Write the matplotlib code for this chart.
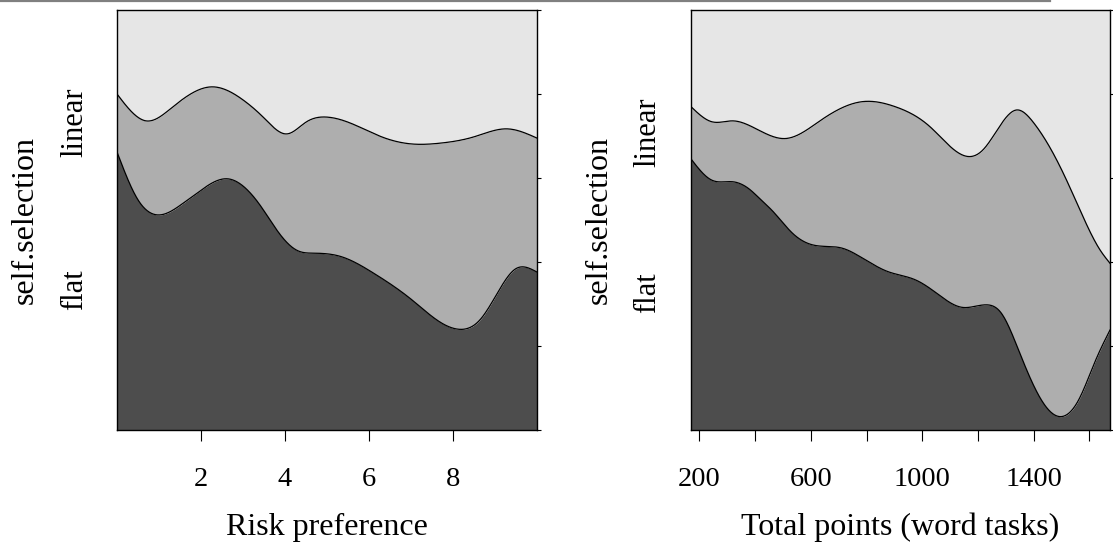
import numpy as np
import matplotlib
matplotlib.use("Agg")
import matplotlib.pyplot as plt
from matplotlib.lines import Line2D

# ---------------- data (cumulative conditional proportions) ----------------
# Left panel: Risk preference
risk_x_low = [0.0, 0.5, 0.98, 1.52, 2.0, 2.64, 3.11, 3.43, 3.75, 4.06, 4.30, 4.69,
              5.33, 6.1, 7.02, 7.69, 8.12, 8.64, 9.14, 9.48, 10.0]
risk_flat = [0.662, 0.548, 0.512, 0.536, 0.571, 0.598, 0.571, 0.532, 0.484, 0.445,
             0.427, 0.421, 0.413, 0.374, 0.310, 0.257, 0.240, 0.262, 0.340, 0.383,
             0.376]
risk_x_up = [0.0, 0.69, 1.3, 2.26, 3.0, 3.5, 4.05, 4.5, 5.0, 5.6, 6.3, 7.02,
             7.7, 8.5, 9.28, 10.0]
risk_flat_self = [0.800, 0.736, 0.767, 0.817, 0.786, 0.743, 0.705, 0.733, 0.745,
                  0.729, 0.698, 0.681, 0.683, 0.698, 0.717, 0.695]

# Right panel: Total points (word tasks)
pts_x_low = [168, 244, 320, 384, 421, 459, 535, 611, 712, 776, 877, 977, 1053,
             1143, 1232, 1283, 1346, 1421, 1485, 1561, 1623, 1674]
pts_flat = [0.647, 0.595, 0.591, 0.571, 0.548, 0.524, 0.468, 0.440, 0.433, 0.413,
            0.377, 0.357, 0.325, 0.292, 0.298, 0.279, 0.190, 0.079, 0.033, 0.071,
            0.167, 0.238]
pts_x_up = [168, 244, 320, 389, 510, 637, 788, 902, 1028, 1168, 1218, 1339, 1397,
            1469, 1518, 1577, 1638, 1674]
pts_flat_self = [0.771, 0.734, 0.736, 0.722, 0.694, 0.738, 0.782, 0.770, 0.722,
                 0.651, 0.667, 0.762, 0.734, 0.660, 0.595, 0.508, 0.429, 0.397]

levels = ["flat", "self.selection", "linear"]
ylab = "self.selection"
xlabels = ["Risk preference", "Total points (word tasks)"]
risk_ticks = [2, 4, 6, 8]
pts_ticks = [200, 400, 600, 800, 1000, 1200, 1400, 1600]
pts_ticklabels = ["200", "", "600", "", "1000", "", "1400", ""]

COLS = ["#4D4D4D", "#AEAEAE", "#E6E6E6"]
FONT = "Liberation Serif"

W, H = 1113, 546


def spline(x, y, xs):
    x = np.asarray(x, float)
    y = np.asarray(y, float)
    n = len(x)
    h = np.diff(x)
    A = np.zeros((n, n))
    b = np.zeros(n)
    A[0, 0] = 1
    A[-1, -1] = 1
    for i in range(1, n - 1):
        A[i, i - 1] = h[i - 1]
        A[i, i] = 2 * (h[i - 1] + h[i])
        A[i, i + 1] = h[i]
        b[i] = 3 * ((y[i + 1] - y[i]) / h[i] - (y[i] - y[i - 1]) / h[i - 1])
    c = np.linalg.solve(A, b)
    bc = (y[1:] - y[:-1]) / h - h * (2 * c[:-1] + c[1:]) / 3
    d = (c[1:] - c[:-1]) / (3 * h)
    idx = np.clip(np.searchsorted(x, xs) - 1, 0, n - 2)
    dx = xs - x[idx]
    return y[idx] + bc[idx] * dx + c[idx] * dx ** 2 + d[idx] * dx ** 3


fig = plt.figure(figsize=(W / 100, H / 100), dpi=100)


def px_ax(l, t, r, b):
    return fig.add_axes([l / W, 1 - b / H, (r - l) / W, (b - t) / H])


def panel(ax, xlo, ylo, xup, yup, xlim, ticks, ticklabels, xlabel, label_y, off):
    xs = np.linspace(xlim[0], xlim[1], 800)
    lo = np.clip(spline(xlo, ylo, xs), 0, 1)
    up = np.clip(spline(xup, yup, xs), 0, 1)
    ax.fill_between(xs, 0, lo, color=COLS[0], lw=0)
    ax.fill_between(xs, lo, up, color=COLS[1], lw=0)
    ax.fill_between(xs, up, 1, color=COLS[2], lw=0)
    ax.plot(xs, lo, color="black", lw=0.9)
    ax.plot(xs, up, color="black", lw=0.9)
    ax.set_xlim(*xlim)
    ax.set_ylim(0, 1)
    for s in ax.spines.values():
        s.set_linewidth(1.0)
    ax.set_xticks(ticks)
    ax.set_xticklabels(ticklabels, fontsize=20.5, fontfamily=FONT)
    ax.tick_params(axis="x", direction="out", length=8, width=0.8, pad=19)
    ax.set_yticks(np.arange(0, 1.01, 0.2))
    ax.tick_params(axis="y", left=False, labelleft=False, right=True,
                   labelright=False, direction="out", length=3, width=0.8)
    # axis title
    fig.text((off + 327) / W, 1 - 535 / H, xlabel, ha="center", va="baseline",
             fontsize=23, fontfamily=FONT)
    # level labels
    fig.text((off + 82) / W, 1 - label_y[1] / H, "linear", rotation=90,
             rotation_mode="anchor", ha="center", va="baseline",
             fontsize=22, fontfamily=FONT)
    fig.text((off + 82) / W, 1 - label_y[0] / H, "flat", rotation=90,
             rotation_mode="anchor", ha="center", va="baseline",
             fontsize=22, fontfamily=FONT)
    fig.text((off + 33) / W, 1 - 220 / H, ylab, rotation=90,
             rotation_mode="anchor", ha="center", va="baseline",
             fontsize=23, fontfamily=FONT)


ax1 = px_ax(117, 10, 537, 430)
panel(ax1, risk_x_low, risk_flat, risk_x_up, risk_flat_self, (0, 10),
      risk_ticks, [str(t) for t in risk_ticks], xlabels[0], (290, 122), 0)

ax2 = px_ax(690.5, 10, 1110, 430)
panel(ax2, pts_x_low, pts_flat, pts_x_up, pts_flat_self, (168, 1674),
      pts_ticks, pts_ticklabels, xlabels[1], (293, 132), 573.5)

# thin grey rule at top
fig.add_artist(Line2D([0, 1050 / W], [1 - 1.2 / H, 1 - 1.2 / H],
                      color="#808080", lw=1.6, transform=fig.transFigure))

fig.savefig("out.png", dpi=100)
